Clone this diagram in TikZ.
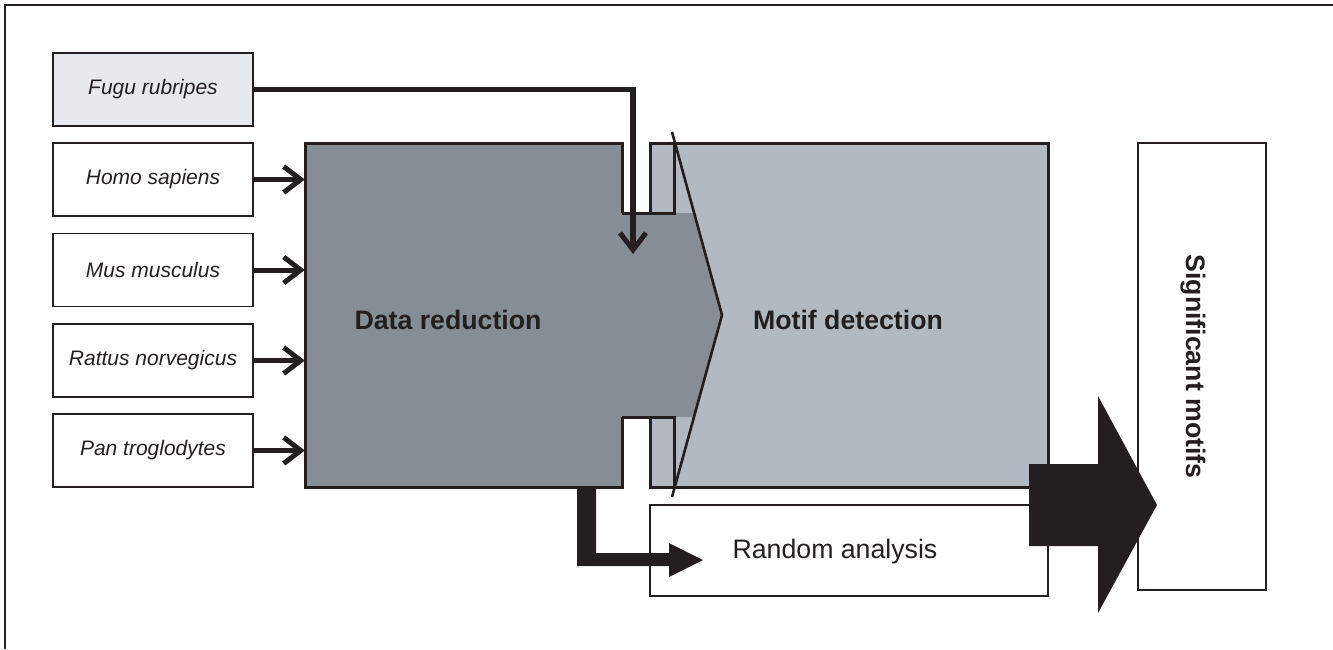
\documentclass[tikz,border=0pt]{standalone}
\usepackage{fontspec}
\setmainfont{Liberation Sans}
\usetikzlibrary{arrows.meta}
\definecolor{ink}{HTML}{231F20}
\definecolor{darkg}{HTML}{868D95}
\definecolor{lightg}{HTML}{B2B9C1}
\definecolor{fugug}{HTML}{E8E9EC}
\tikzset{
  spbox/.style={draw=ink, line width=1.6pt, minimum width=200pt, minimum height=73pt, inner sep=0pt,
    font=\fontsize{21}{25}\selectfont\itshape, text=ink},
  arr/.style={draw=ink, line width=5pt, -{Straight Barb[length=17pt,width=26pt,line width=5pt]}},
  bigtxt/.style={font=\fontsize{26.7}{32}\selectfont\bfseries, text=ink, inner sep=0pt},
  outl/.style={draw=ink, line width=3pt},
}
\begin{document}
\begin{tikzpicture}[x=1pt,y=-1pt]
\useasboundingbox (0,0) rectangle (1333,649);
% frame (only top and left edges visible)
\draw[ink, line width=2pt] (5,649) -- (5,5) -- (1333,5);

% species boxes
\node[spbox, fill=fugug] (fugu) at (153,89.5) {Fugu rubripes};
\node[spbox] (homo) at (153,179.5) {Homo sapiens};
\node[spbox] (mus) at (153,270) {Mus musculus};
\node[spbox] (rat) at (153,360.5) {Rattus norvegicus};
\node[spbox] (pan) at (153,450.5) {Pan troglodytes};

% motif detection box
\node[fill=lightg, draw=ink, line width=3pt, minimum width=398pt, minimum height=344pt, inner sep=0pt] (md) at (849,315) {};

% data reduction region (invisible reference node)
\node[minimum width=317pt, minimum height=344pt, inner sep=0pt] (dr) at (463.5,315) {};

% data reduction shape
\fill[darkg] (305,143) -- (622,143) -- (622,213) -- (694,213) -- (722,315) -- (694,417)
  -- (622,417) -- (622,487) -- (305,487) -- cycle;
\draw[outl] (622,213) -- (622,143) -- (305,143) -- (305,487) -- (622,487) -- (622,417);
\draw[outl] (622,213) -- (674,213) -- (674,143);
\draw[outl] (622,417) -- (674,417) -- (674,487);
\draw[outl] (650,143) -- (650,213);
\draw[outl] (650,417) -- (650,487);
\draw[ink, line width=2.6pt] (672,132) -- (722,315) -- (672,497);

\node[bigtxt] (drl) at (448,320) {Data reduction};
\node[bigtxt] (mdl) at (848,320) {Motif detection};

% random analysis
\node[draw=ink, line width=2pt, minimum width=398pt, minimum height=91pt, inner sep=0pt] (ra) at (849,550.5) {};
\node[font=\fontsize{26.7}{32}\selectfont, text=ink, inner sep=0pt] (ral) at (835,552) {Random analysis};

% significant motifs
\node[draw=ink, line width=2pt, minimum width=128pt, minimum height=447pt, inner sep=0pt] (sig) at (1202,366.5) {};
\node[bigtxt, rotate=-90] (sigl) at (1193,366.5) {Significant motifs};

% species arrows
\draw[arr] (homo.east) -- (homo.east -| dr.west);
\draw[arr] (mus.east) -- (mus.east -| dr.west);
\draw[arr] (rat.east) -- (rat.east -| dr.west);
\draw[arr] (pan.east) -- (pan.east -| dr.west);
\coordinate (fdrop) at (633,254);
\draw[arr, line width=5.5pt] (fugu.east) -| (fdrop);

% thick L arrow to random analysis
\fill[ink] (577,487) -- (596,487) -- (596,553) -- (669,553) -- (669,543) -- (703,560)
  -- (669,577) -- (669,566) -- (577,566) -- cycle;

% big arrow to significant motifs
\fill[ink] (1029,464) -- (1098,464) -- (1098,396) -- (1157,505) -- (1098,613) -- (1098,546)
  -- (1029,546) -- cycle;
\end{tikzpicture}
\end{document}
